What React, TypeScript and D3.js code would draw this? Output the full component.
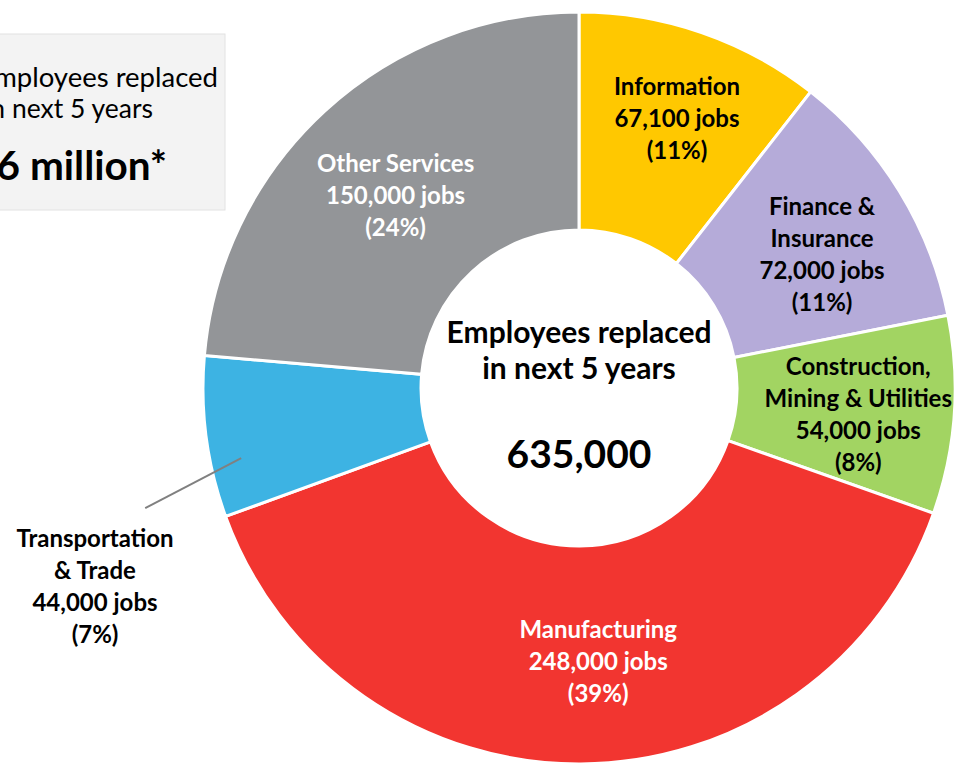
import React from "react";
import * as d3 from "d3";

const categories = ["Information", "Finance & Insurance", "Construction, Mining & Utilities", "Manufacturing", "Transportation & Trade", "Other Services"];
const jobs = [67100, 72000, 54000, 248000, 44000, 150000];
const percents = ["11%", "11%", "8%", "39%", "7%", "24%"];
const labelLines = [
  ["Information"],
  ["Finance &", "Insurance"],
  ["Construction,", "Mining & Utilities"],
  ["Manufacturing"],
  ["Transportation", "& Trade"],
  ["Other Services"],
];
const colors = ["#FFC800", "#B5ABD9", "#A2D462", "#F23530", "#3DB3E3", "#939598"];
const textColors = ["#000", "#000", "#000", "#fff", "#000", "#fff"];
const centerLines = ["Employees replaced", "in next 5 years"];
const centerTotal = "635,000";
const boxLines = ["Employees replaced", "in next 5 years"];
const boxTotal = "1.6 million*";

const W = 955, H = 765;
const FONT = "Lato, 'Open Sans', sans-serif";

export default function App() {
  const cx = 579, cy = 388, rOuter = 376, rInner = 158;
  const pie = d3.pie<number>().sort(null).value((d) => d)(jobs);
  const arc = d3.arc<d3.PieArcDatum<number>>().innerRadius(rInner).outerRadius(rOuter);
  const labelArc = d3.arc<d3.PieArcDatum<number>>().innerRadius(270).outerRadius(270);
  const fmt = d3.format(",");
  const offsets = [[10, -14], [13, 8], [10, 7], [18, 4], [0, 0], [-1, 7]];
  const lineH = 32;
  const labelSize = 24;

  return (
    <svg width={W} height={H} style={{ position: "fixed", left: 0, top: 0, background: "#fff" }} fontFamily={FONT}>
      <rect x={-10} y={34} width={235} height={176} fill="#F3F3F3" stroke="#E2E2E2" strokeWidth={1} />
      <text x={218} y={87} textAnchor="end" fontSize={27.5} fill="#000">{boxLines[0]}</text>
      <text x={153} y={118} textAnchor="end" fontSize={26.5} fill="#000">{boxLines[1]}</text>
      <text x={167} y={180} textAnchor="end" fontSize={40.5} fontWeight={700} fill="#000">{boxTotal}</text>

      <g transform={`translate(${cx},${cy})`}>
        {pie.map((p, i) => (
          <path key={i} d={arc(p) as string} fill={colors[i]} stroke="#fff" strokeWidth={3} />
        ))}
        {pie.map((p, i) => {
          if (i === 4) return null;
          const [x, y] = labelArc.centroid(p);
          const lines = [...labelLines[i], `${fmt(jobs[i])} jobs`, `(${percents[i]})`];
          const x0 = x + offsets[i][0];
          const y0 = y + offsets[i][1] - ((lines.length - 1) * lineH) / 2;
          return (
            <text key={i} textAnchor="middle" fontSize={labelSize} fontWeight={700} fill={textColors[i]}>
              {lines.map((l, j) => (
                <tspan key={j} x={x0} y={y0 + j * lineH} dy="0.35em">{l}</tspan>
              ))}
            </text>
          );
        })}
        {(() => {
          const p = pie[4];
          const a = p.startAngle + (p.endAngle - p.startAngle) * 0.33;
          const r1 = 345;
          const x1 = r1 * Math.sin(a), y1 = -r1 * Math.cos(a);
          const x2 = x1 - 96, y2 = y1 + 50;
          const lines = [...labelLines[4], `${fmt(jobs[4])} jobs`, `(${percents[4]})`];
          const lx = -484, ly = 587 - cy - ((lines.length - 1) * lineH) / 2;
          return (
            <g>
              <line x1={x1} y1={y1} x2={x2} y2={y2} stroke="#808080" strokeWidth={2} />
              <text textAnchor="middle" fontSize={labelSize} fontWeight={700} fill="#000">
                {lines.map((l, j) => (
                  <tspan key={j} x={lx} y={ly + j * lineH} dy="0.35em">{l}</tspan>
                ))}
              </text>
            </g>
          );
        })()}
        <text textAnchor="middle" fontSize={30} fontWeight={700} fill="#000">
          <tspan x={0} y={-45}>{centerLines[0]}</tspan>
          <tspan x={0} y={-9}>{centerLines[1]}</tspan>
        </text>
        <text x={0} y={80} textAnchor="middle" fontSize={39} fontWeight={700} fill="#000">{centerTotal}</text>
      </g>
    </svg>
  );
}
